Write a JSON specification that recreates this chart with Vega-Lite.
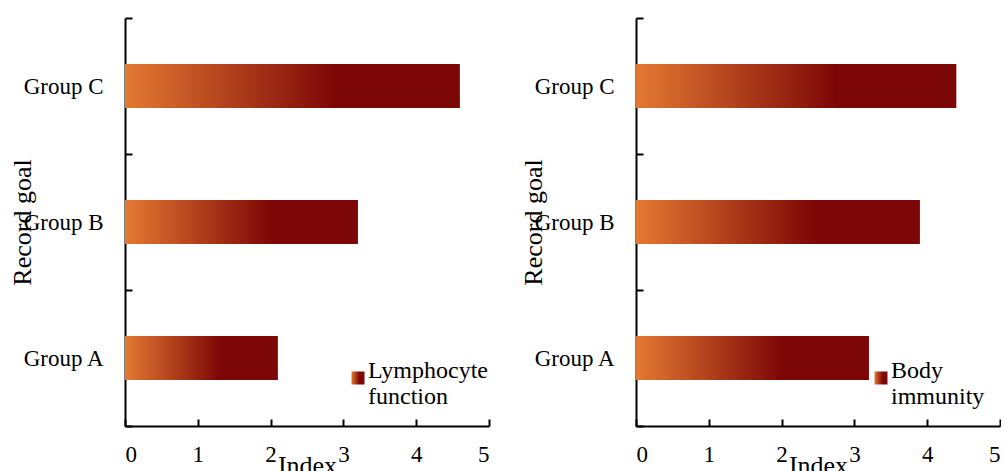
{
  "$schema": "https://vega.github.io/schema/vega-lite/v6.json",
  "background": "white",
  "padding": {"left": 9, "top": 7, "right": 0, "bottom": 0},
  "spacing": 30,
  "resolve": {
    "scale": {"opacity": "independent"},
    "legend": {"opacity": "independent"}
  },
  "config": {
    "font": "Liberation Serif",
    "view": {"stroke": null},
    "axis": {
      "grid": false,
      "domainColor": "black",
      "domainWidth": 2,
      "tickColor": "black",
      "tickWidth": 2,
      "labelColor": "black",
      "titleColor": "black",
      "titleFontWeight": "normal"
    }
  },
  "hconcat": [
    {
      "width": 364,
      "height": 408,
      "data": {
        "values": [
          {"group": "Group A", "value": 2.1, "series": "Lymphocyte function"},
          {"group": "Group B", "value": 3.2, "series": "Lymphocyte function"},
          {"group": "Group C", "value": 4.6, "series": "Lymphocyte function"}
        ]
      },
      "mark": {
        "type": "bar",
        "height": {"band": 0.324},
        "color": {
          "gradient": "linear",
          "x1": 0, "y1": 0, "x2": 1, "y2": 0,
          "stops": [
            {"offset": 0, "color": "#e37a32"},
            {"offset": 0.63, "color": "#7d0606"},
            {"offset": 1, "color": "#7d0606"}
          ]
        }
      },
      "encoding": {
        "y": {
          "field": "group",
          "type": "nominal",
          "sort": "descending",
          "title": "Record goal",
          "scale": {"paddingInner": 0, "paddingOuter": 0},
          "axis": {
            "tickBand": "extent",
            "tickSize": -7,
            "labelPadding": 29,
            "labelAngle": 0,
            "labelFont": "Liberation Serif",
            "labelFontSize": 23,
            "titleFont": "Liberation Serif",
            "titleFontSize": 26,
            "titleX": -95,
            "titleBaseline": "alphabetic"
          }
        },
        "x": {
          "field": "value",
          "type": "quantitative",
          "title": "Index",
          "scale": {"domain": [0, 5], "nice": false},
          "axis": {
            "values": [0, 1, 2, 3, 4, 5],
            "tickSize": -7,
            "labelPadding": 24,
            "labelFont": "Liberation Serif",
            "labelFontSize": 23,
            "titleFont": "Liberation Serif",
            "titleFontSize": 26,
            "titleY": 47,
            "titleBaseline": "alphabetic"
          }
        },
        "opacity": {
          "field": "series",
          "type": "nominal",
          "scale": {"range": [1, 1]},
          "legend": {
            "orient": "none",
            "legendX": 221,
            "legendY": 348,
            "title": null,
            "padding": 0,
            "symbolType": "square",
            "symbolSize": 169,
            "symbolStrokeWidth": 0,
            "labelFont": "Liberation Serif",
            "labelFontSize": 24,
            "labelColor": "black",
            "labelOffset": -2,
            "labelLimit": 300,
            "labelBaseline": "alphabetic",
            "labelExpr": "split(datum.label, ' ')",
            "encode": {
              "symbols": {
                "update": {
                  "fill": {"value": {
                    "gradient": "linear",
                    "x1": 0, "y1": 0, "x2": 1, "y2": 0,
                    "stops": [
                      {"offset": 0, "color": "#e37a32"},
                      {"offset": 0.63, "color": "#7d0606"},
                      {"offset": 1, "color": "#7d0606"}
                    ]
                  }},
                  "opacity": {"value": 1}
                }
              }
            }
          }
        }
      }
    },
    {
      "width": 364,
      "height": 408,
      "data": {
        "values": [
          {"group": "Group A", "value": 3.2, "series": "Body immunity"},
          {"group": "Group B", "value": 3.9, "series": "Body immunity"},
          {"group": "Group C", "value": 4.4, "series": "Body immunity"}
        ]
      },
      "mark": {
        "type": "bar",
        "height": {"band": 0.324},
        "color": {
          "gradient": "linear",
          "x1": 0, "y1": 0, "x2": 1, "y2": 0,
          "stops": [
            {"offset": 0, "color": "#e37a32"},
            {"offset": 0.63, "color": "#7d0606"},
            {"offset": 1, "color": "#7d0606"}
          ]
        }
      },
      "encoding": {
        "y": {
          "field": "group",
          "type": "nominal",
          "sort": "descending",
          "title": "Record goal",
          "scale": {"paddingInner": 0, "paddingOuter": 0},
          "axis": {
            "tickBand": "extent",
            "tickSize": -7,
            "labelPadding": 29,
            "labelAngle": 0,
            "labelFont": "Liberation Serif",
            "labelFontSize": 23,
            "titleFont": "Liberation Serif",
            "titleFontSize": 26,
            "titleX": -95,
            "titleBaseline": "alphabetic"
          }
        },
        "x": {
          "field": "value",
          "type": "quantitative",
          "title": "Index",
          "scale": {"domain": [0, 5], "nice": false},
          "axis": {
            "values": [0, 1, 2, 3, 4, 5],
            "tickSize": -7,
            "labelPadding": 24,
            "labelFont": "Liberation Serif",
            "labelFontSize": 23,
            "titleFont": "Liberation Serif",
            "titleFontSize": 26,
            "titleY": 47,
            "titleBaseline": "alphabetic"
          }
        },
        "opacity": {
          "field": "series",
          "type": "nominal",
          "scale": {"range": [1, 1]},
          "legend": {
            "orient": "none",
            "legendX": 233,
            "legendY": 348,
            "title": null,
            "padding": 0,
            "symbolType": "square",
            "symbolSize": 169,
            "symbolStrokeWidth": 0,
            "labelFont": "Liberation Serif",
            "labelFontSize": 24,
            "labelColor": "black",
            "labelOffset": -2,
            "labelLimit": 300,
            "labelBaseline": "alphabetic",
            "labelExpr": "split(datum.label, ' ')",
            "encode": {
              "symbols": {
                "update": {
                  "fill": {"value": {
                    "gradient": "linear",
                    "x1": 0, "y1": 0, "x2": 1, "y2": 0,
                    "stops": [
                      {"offset": 0, "color": "#e37a32"},
                      {"offset": 0.63, "color": "#7d0606"},
                      {"offset": 1, "color": "#7d0606"}
                    ]
                  }},
                  "opacity": {"value": 1}
                }
              }
            }
          }
        }
      }
    }
  ]
}
